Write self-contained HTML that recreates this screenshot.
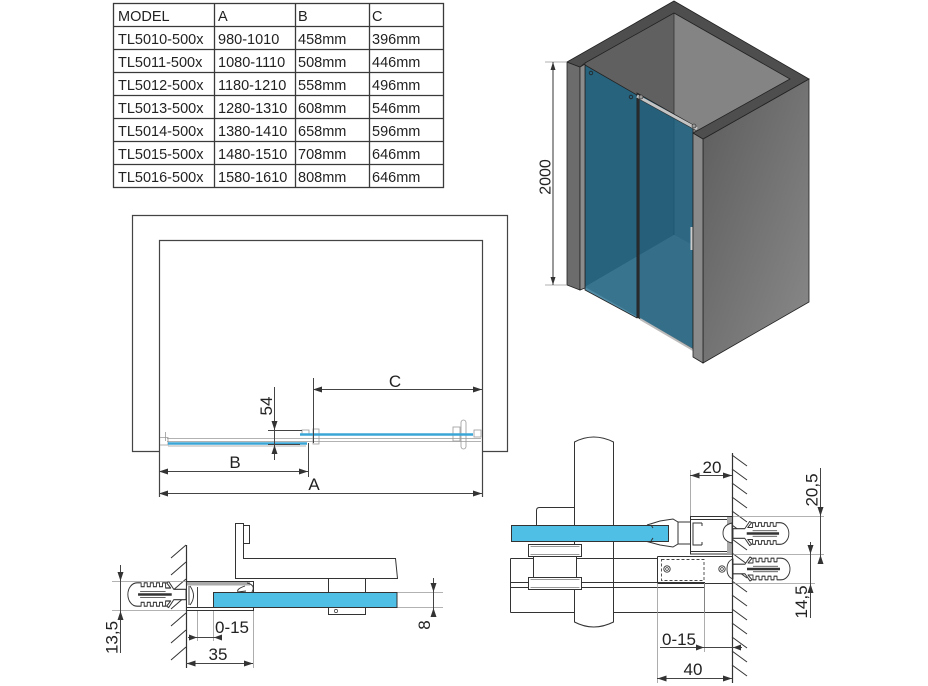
<!DOCTYPE html>
<html><head><meta charset="utf-8"><style>
html,body{margin:0;padding:0;background:#fff;}
svg{display:block;}
text{font-family:"Liberation Sans",sans-serif;fill:#222;}
</style></head><body>
<svg width="928" height="686" viewBox="0 0 928 686" xmlns="http://www.w3.org/2000/svg">
<defs>
<linearGradient id="rw" x1="0" y1="0" x2="1" y2="1"><stop offset="0" stop-color="#5c5c5c"/><stop offset="1" stop-color="#8a8a8a"/></linearGradient>
<g id="dowel" stroke="#333" stroke-width="0.9" stroke-linejoin="round">
<path fill="#fff" d="M0,-4 L12,-4 L17,-10 L19,-9 L15,-5 L20,-5 L20,-9 L23,-9 L23,-6 L26,-6 L26,-9 L29,-9 L29,-6 L32,-6 L32,-9 L35,-9 L35,-6 L38,-6 L38,-9 L41,-9 L41,-6 L44,-6 L44,-9 L48,-9 A9,9 0 0 1 48,9 L44,9 L44,6 L41,6 L41,9 L38,9 L38,6 L35,6 L35,9 L32,9 L32,6 L29,6 L29,9 L26,9 L26,6 L23,6 L23,9 L20,9 L20,5 L15,5 L19,9 L17,10 L12,4 L0,4 Z"/>
<path d="M14,0 H47" stroke-width="2" fill="none"/>
<path d="M20,-2.3 H45 M20,2.3 H45" stroke-width="0.6" fill="none"/>
</g>
</defs>

<!-- TABLE -->
<g stroke="#3a3a3a" stroke-width="1.3" fill="none">
<rect x="113.5" y="3.5" width="330" height="184"/>
<path d="M214.5,3.5V187.5 M295.5,3.5V187.5 M369.5,3.5V187.5"/>
<path d="M113.5,26.5H443.5 M113.5,49.5H443.5 M113.5,72.5H443.5 M113.5,95.5H443.5 M113.5,118.5H443.5 M113.5,141.5H443.5 M113.5,164.5H443.5"/>
</g>
<g font-size="14.5">
<text x="118" y="21">MODEL</text><text x="218" y="21">A</text><text x="298" y="21">B</text><text x="372" y="21">C</text>
<text x="118" y="44">TL5010-500x</text><text x="218" y="44">980-1010</text><text x="298" y="44">458mm</text><text x="372" y="44">396mm</text>
<text x="118" y="67">TL5011-500x</text><text x="218" y="67">1080-1110</text><text x="298" y="67">508mm</text><text x="372" y="67">446mm</text>
<text x="118" y="90">TL5012-500x</text><text x="218" y="90">1180-1210</text><text x="298" y="90">558mm</text><text x="372" y="90">496mm</text>
<text x="118" y="113">TL5013-500x</text><text x="218" y="113">1280-1310</text><text x="298" y="113">608mm</text><text x="372" y="113">546mm</text>
<text x="118" y="136">TL5014-500x</text><text x="218" y="136">1380-1410</text><text x="298" y="136">658mm</text><text x="372" y="136">596mm</text>
<text x="118" y="159">TL5015-500x</text><text x="218" y="159">1480-1510</text><text x="298" y="159">708mm</text><text x="372" y="159">646mm</text>
<text x="118" y="182">TL5016-500x</text><text x="218" y="182">1580-1610</text><text x="298" y="182">808mm</text><text x="372" y="182">646mm</text>
</g>

<!-- 3D VIEW -->
<polygon points="585,63 674,13 674,235 585,287" fill="#606060"/>
<polygon points="674,13 790,79 790,300 674,235" fill="#848484"/>
<polygon points="585,287 674,235 790,300 700,352" fill="#a2a2a2"/>
<line x1="674" y1="13" x2="674" y2="235" stroke="#333" stroke-width="0.8"/>
<polygon points="585,65 637,95 637,318 585,290" fill="rgb(22,100,135)" fill-opacity="0.75" stroke="#222" stroke-width="0.8"/>
<polygon points="637,93 693,125 693,349 637,317" fill="rgb(22,95,128)" fill-opacity="0.78" stroke="#222" stroke-width="0.8"/>
<line x1="583" y1="64" x2="583" y2="289" stroke="#c0c0c0" stroke-width="2"/>
<line x1="638.5" y1="94" x2="638.5" y2="318" stroke="#2a2a2a" stroke-width="2.2"/>
<line x1="637" y1="96" x2="697" y2="129" stroke="#c4c4c4" stroke-width="3"/>
<line x1="637" y1="98" x2="697" y2="131" stroke="#333" stroke-width="0.6"/>
<line x1="640" y1="319" x2="693" y2="350" stroke="#bbb" stroke-width="2"/>
<rect x="690.5" y="227" width="2" height="23" fill="#ccc"/>
<circle cx="591" cy="73" r="1.8" fill="none" stroke="#222" stroke-width="0.8"/>
<circle cx="631" cy="97" r="1.8" fill="none" stroke="#222" stroke-width="0.8"/>
<circle cx="641" cy="97" r="2" fill="#999" stroke="#222" stroke-width="0.6"/>
<circle cx="694" cy="126" r="2" fill="#999" stroke="#222" stroke-width="0.6"/>
<polygon points="567,62 580,67 580,290 567,285" fill="#6c6c6c" stroke="#222" stroke-width="0.8"/>
<polygon points="580,67 585,64 585,288 580,290" fill="#8c8c8c" stroke="#222" stroke-width="0.8"/>
<polygon points="703,139 809,79 809,302 703,363" fill="url(#rw)" stroke="#222" stroke-width="0.8"/>
<polygon points="693,133 703,139 703,363 693,357" fill="#8a8a8a" stroke="#222" stroke-width="0.8"/>
<polygon points="567,62 674,1 809,79 703,139 693,133 790,79 674,13 585,63 580,67" fill="#4e4e4e" stroke="#222" stroke-width="0.8"/>
<g stroke="#999" stroke-width="0.8"><path d="M545,62H567 M545,285H567"/></g>
<line x1="553" y1="62" x2="553" y2="285" stroke="#333" stroke-width="1"/>
<polygon points="553,62 550.5,70 555.5,70" fill="#333"/>
<polygon points="553,285 550.5,277 555.5,277" fill="#333"/>
<text transform="translate(545,177) rotate(-90)" text-anchor="middle" dy="0.35em" font-size="16">2000</text>

<!-- PLAN VIEW -->
<g stroke="#444" stroke-width="1.2" fill="none">
<polyline points="159,451.5 132.5,451.5 132.5,215.5 507.5,215.5 507.5,451.5 482,451.5"/>
<polyline points="159.5,497 159.5,240.5 482.5,240.5 482.5,497"/>
</g>
<g stroke="#999" stroke-width="0.8" fill="none">
<path d="M167,438.5H481 M167,441.5H481 M168,446H306"/>
<path d="M165.5,432V441 M160,437.5H168V445H160"/>
<rect x="302" y="430" width="7" height="5"/>
<rect x="313" y="429" width="6" height="15"/>
<rect x="453" y="427" width="7" height="14"/>
<rect x="461" y="420" width="5" height="29" rx="2.5"/>
<rect x="474" y="430" width="7" height="7"/>
</g>
<line x1="168" y1="443.5" x2="307" y2="443.5" stroke="#3aa6d6" stroke-width="2.6"/>
<line x1="300" y1="434.5" x2="473" y2="434.5" stroke="#3aa6d6" stroke-width="2.6"/>
<g stroke="#444" stroke-width="1" fill="none">
<path d="M313.5,378V443 M308.5,443V477 M313,389.5H482 M159,471.5H308 M159,493.5H482"/>
<path d="M274.5,387V460 M268,430.5H302 M268,444.5H300"/>
</g>
<g fill="#333">
<polygon points="313,389.5 322,386.5 322,392.5"/><polygon points="482,389.5 473,386.5 473,392.5"/>
<polygon points="159,471.5 168,468.5 168,474.5"/><polygon points="308,471.5 299,468.5 299,474.5"/>
<polygon points="159,493.5 168,490.5 168,496.5"/><polygon points="482,493.5 473,490.5 473,496.5"/>
<polygon points="274.5,430 271.5,421 277.5,421"/><polygon points="274.5,445 271.5,454 277.5,454"/>
</g>
<g font-size="17" text-anchor="middle">
<text x="395" y="387">C</text>
<text x="235" y="468">B</text>
<text x="314" y="490">A</text>
<text transform="translate(266,406) rotate(-90)" dy="0.35em">54</text>
</g>

<!-- BOTTOM LEFT DETAIL -->
<g stroke="#333" stroke-width="1" fill="none">
<path d="M186,545 L171,558 M186,562 L171,575 M186,579 L171,592 M186,596 L171,609 M186,613 L171,626 M186,630 L171,643 M186,647 L171,660"/>
</g>
<use href="#dowel" transform="translate(186,594.5) scale(-1.02,1.3)"/>
<g stroke="#999" stroke-width="0.8" fill="none">
<path d="M112,581.5H186 M112,610.5H186 M397,592.5H443 M397,607.5H443 M197.5,610V641 M213.5,607V641 M253.5,610V668"/>
</g>
<line x1="186.5" y1="545" x2="186.5" y2="668" stroke="#333" stroke-width="1.2"/>
<!-- bracket -->
<g stroke="#333" stroke-width="1" fill="#fff">
<path d="M235.5,523.5 H243.5 V558.5 H395.5 L397.5,578.5 H235.5 Z"/>
<rect x="243.5" y="525.5" width="6" height="18"/>
<rect x="328.5" y="578.5" width="37" height="14"/>
<rect x="328.5" y="607.5" width="37" height="7"/>
</g>
<circle cx="336" cy="611" r="1.6" fill="none" stroke="#333" stroke-width="0.7"/>
<!-- profile -->
<g stroke="#333" stroke-width="1" fill="#fff">
<rect x="186.5" y="581.5" width="67" height="29"/>
</g>
<rect x="187" y="582" width="63" height="3.5" fill="#aaa"/>
<g stroke="#333" stroke-width="0.9" fill="none">
<path d="M186.5,607.5H253.5 M197.5,587V607 M190,586 Q197,596 190,605 M189,586V605"/>
<path d="M247,583 Q256,585 252,592 L249,595 M245,586 Q236,589 238,592 L246,591 M240,594 L250,596"/>
</g>
<rect x="213.5" y="592.5" width="183.5" height="15" fill="#4fbfe6" stroke="#333" stroke-width="1"/>
<g stroke="#444" stroke-width="1" fill="none">
<path d="M120.5,565V653 M433.5,578V614 M188,637.5H221 M186,663.5H253"/>
</g>
<g fill="#333">
<polygon points="120.5,581 117.5,572 123.5,572"/><polygon points="120.5,611 117.5,620 123.5,620"/>
<polygon points="433.5,592 430.5,583 436.5,583"/><polygon points="433.5,608 430.5,617 436.5,617"/>
<polygon points="197,637.5 189,634.5 189,640.5"/><polygon points="214,637.5 222,634.5 222,640.5"/>
<polygon points="186.5,663.5 195.5,660.5 195.5,666.5"/><polygon points="253,663.5 244,660.5 244,666.5"/>
</g>
<g font-size="17" text-anchor="middle">
<text transform="translate(111.5,637.5) rotate(-90)" dy="0.35em">13,5</text>
<text transform="translate(424,625) rotate(-90)" dy="0.35em">8</text>
<text x="232" y="633">0-15</text>
<text x="218" y="660">35</text>
</g>

<!-- BOTTOM RIGHT DETAIL -->
<g stroke="#333" stroke-width="1" fill="#fff">
<path d="M574.5,442 Q593.5,432 613.5,442 V622 Q593.5,632 574.5,622 Z"/>
</g>
<g stroke="#333" stroke-width="1" fill="none">
<path d="M510.5,558.5H657 M510.5,558.5V612.5 M510.5,582.5H704 M510.5,587.5H704 M510.5,612.5H574 M613,612.5H732 M704.5,582V612"/>
</g>
<g stroke="#333" stroke-width="1" fill="#fff">
<rect x="528.5" y="544.5" width="53" height="12"/>
<rect x="533.5" y="556.5" width="43" height="21"/>
<rect x="528.5" y="577.5" width="53" height="12"/>
<path d="M536.5,525 V510.5 Q536.5,507.5 539.5,507.5 H574.5 V525"/>
</g>
<g stroke="#333" stroke-width="0.6" fill="none">
<path d="M530.5,546.5H579.5 M530.5,554.5H579.5 M530.5,579.5H579.5 M530.5,587.5H579.5"/>
</g>
<rect x="511.5" y="525.5" width="157" height="16" fill="#4fbfe6" stroke="#333" stroke-width="1"/>
<g stroke="#333" stroke-width="1" fill="none">
<path d="M647,525 L660,521 L673,519 L678,522 L690,522 M647,541.5 L660,545 L673,547 L678,544 L690,544 M678,522V544"/>
<path d="M702,523 H693 V545 H702 M702,523v3 M702,545v-3"/>
<path d="M651,525 l2,3 M651,541 l2,-3"/>
</g>
<g stroke="#333" stroke-width="1" fill="none">
<rect x="690.5" y="516.5" width="41.5" height="37.5"/>
<path d="M690.5,519.5H728 M690.5,551.5H728"/>
<path d="M657.5,556.5H732 M657.5,556.5V583.5 H732"/>
</g>
<rect x="727" y="517" width="5" height="37" fill="#aaa"/>
<rect x="661.5" y="559.5" width="42.5" height="21" fill="none" stroke="#444" stroke-width="0.9" stroke-dasharray="3,2"/>
<circle cx="667" cy="569" r="3.2" fill="none" stroke="#333" stroke-width="0.9"/>
<circle cx="667" cy="569" r="1.4" fill="none" stroke="#333" stroke-width="0.7"/>
<circle cx="722" cy="569" r="3.2" fill="none" stroke="#333" stroke-width="0.9"/>
<circle cx="722" cy="569" r="1.4" fill="none" stroke="#333" stroke-width="0.7"/>
<g stroke="#333" stroke-width="1" fill="none">
<path d="M732,455 L747,466 M732,469 L747,480 M732,483 L747,494 M732,497 L747,508 M732,511 L747,522 M732,525 L747,536 M732,539 L747,550 M732,553 L747,564 M732,567 L747,578 M732,581 L747,592 M732,595 L747,606 M732,609 L747,620 M732,623 L747,634 M732,637 L747,648 M732,651 L747,662 M732,665 L747,676"/>
</g>
<use href="#dowel" transform="translate(733,533.5) scale(0.98,1.2)"/>
<use href="#dowel" transform="translate(733,569) scale(1,1.2)"/>
<path d="M732,523 Q723,525 723,533 Q723,541 732,543 Z" fill="#fff" stroke="#333" stroke-width="0.9"/>
<path d="M733,559 Q727,561 727,569 Q727,577 733,579 Z" fill="#fff" stroke="#333" stroke-width="0.9"/>
<g stroke="#999" stroke-width="0.8" fill="none">
<path d="M690.5,470V516 M732,516.5H824 M690,554.5H824 M732,583.5H815 M704.5,583V652 M657.5,583V683"/>
</g>
<line x1="732.5" y1="453" x2="732.5" y2="683" stroke="#333" stroke-width="1.2"/>
<g stroke="#444" stroke-width="1" fill="none">
<path d="M690,475.5H732 M820.5,468V563 M810.5,542V618 M660,647.5H742 M657,678.5H732"/>
</g>
<g fill="#333">
<polygon points="690.5,475.5 699.5,472.5 699.5,478.5"/><polygon points="732,475.5 723,472.5 723,478.5"/>
<polygon points="820.5,516 817.5,507 823.5,507"/><polygon points="820.5,555 817.5,564 823.5,564"/>
<polygon points="810.5,554 807.5,545 813.5,545"/><polygon points="810.5,584 807.5,593 813.5,593"/>
<polygon points="704,647.5 696,644.5 696,650.5"/><polygon points="733,647.5 741,644.5 741,650.5"/>
<polygon points="657.5,678.5 666.5,675.5 666.5,681.5"/><polygon points="732,678.5 723,675.5 723,681.5"/>
</g>
<g font-size="17" text-anchor="middle">
<text x="712" y="473">20</text>
<text transform="translate(811.5,490) rotate(-90)" dy="0.35em">20,5</text>
<text transform="translate(801,602) rotate(-90)" dy="0.35em">14,5</text>
<text x="679" y="645">0-15</text>
<text x="693" y="675">40</text>
</g>
</svg>
</body></html>
